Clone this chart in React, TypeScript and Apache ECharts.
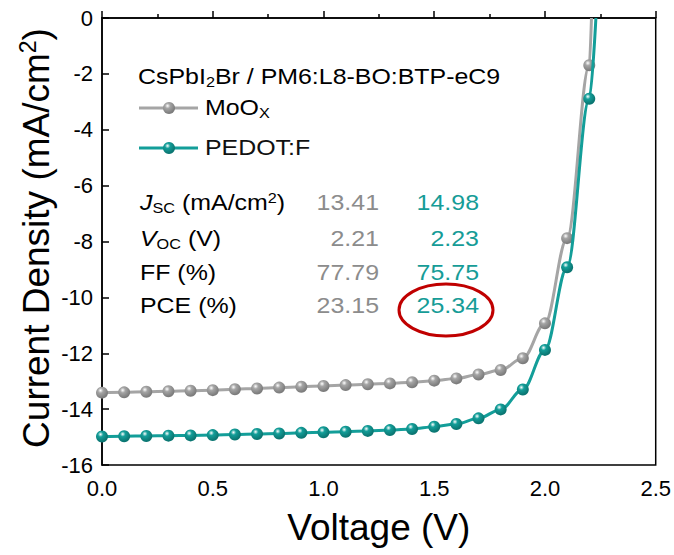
import React, { useEffect, useRef } from "react";
import * as echarts from "echarts";

const voltage = [0, 0.1, 0.2, 0.3, 0.4, 0.5, 0.6, 0.7, 0.8, 0.9, 1.0, 1.1, 1.2, 1.3, 1.4, 1.5, 1.6, 1.7, 1.8, 1.9, 2.0, 2.1, 2.2];
const jMoOx = [-13.41, -13.4, -13.38, -13.36, -13.34, -13.32, -13.29, -13.26, -13.23, -13.2, -13.17, -13.14, -13.11, -13.08, -13.04, -12.98, -12.9, -12.76, -12.6, -12.18, -10.93, -7.88, -1.69];
const jPedot = [-14.98, -14.97, -14.96, -14.95, -14.94, -14.93, -14.91, -14.89, -14.87, -14.85, -14.83, -14.81, -14.78, -14.75, -14.71, -14.63, -14.53, -14.33, -14.01, -13.3, -11.88, -8.92, -2.89];
const vocMoOx = 2.21;
const vocPedot = 2.23;

const seriesNames = ["MoO", "PEDOT:F"];
const rowLabels = ["{i|J}{sub|SC}{n| (mA/cm}{sup|2}{n|)}", "{i|V}{sub|OC}{n| (V)}", "{n|FF (%)}", "{n|PCE (%)}"];
const valuesMoOx = ["13.41", "2.21", "77.79", "23.15"];
const valuesPedot = ["14.98", "2.23", "75.75", "25.34"];

const GREY = "#A5A5A5";
const TEAL = "#139E99";
const GREY_TXT = "#8C8C8C";
const TEAL_TXT = "#169C97";
const FONT = "Liberation Sans, Arial, sans-serif";
const SX = 1.16;

function ball(color: string, dark: string) {
  return new echarts.graphic.RadialGradient(0.38, 0.32, 0.62, [
    { offset: 0, color: "#ffffff" },
    { offset: 0.35, color: color },
    { offset: 1, color: dark },
  ]);
}

export default function App() {
  const ref = useRef<HTMLDivElement>(null);
  useEffect(() => {
    if (!ref.current) return;
    const chart = echarts.init(ref.current, undefined, { renderer: "svg" });
    const mData: any[] = voltage.map((v, i) => [v, jMoOx[i]]);
    mData.push({ value: [vocMoOx, 0], symbol: "none" });
    const pData: any[] = voltage.map((v, i) => [v, jPedot[i]]);
    pData.push({ value: [vocPedot, 0], symbol: "none" });

    const FS = 21.5;
    const richBase = {
      n: { fontSize: FS, fontFamily: FONT, color: "#111" },
      i: { fontSize: FS, fontFamily: FONT, color: "#111", fontStyle: "italic" },
      sub: { fontSize: 14, fontFamily: FONT, color: "#111", padding: [10, 0, 0, 0] },
      sup: { fontSize: 14, fontFamily: FONT, color: "#111", padding: [0, 0, 10, 0] },
    };

    const rowY = [203, 239, 273, 306];
    const graphics: any[] = [];
    graphics.push({
      type: "text",
      x: 138,
      y: 77,
      scaleX: SX,
      style: {
        text: "{n|CsPbI}{sub|2}{n|Br / PM6:L8-BO:BTP-eC9}",
        rich: richBase,
        verticalAlign: "middle",
        align: "left",
      },
    });
    const legendY = [108, 148];
    const legendColors = [GREY, TEAL];
    const legendDark = ["#7d7d7d", "#0b7672"];
    legendY.forEach((y, k) => {
      graphics.push({
        type: "line",
        shape: { x1: 139, y1: y, x2: 198, y2: y },
        style: { stroke: legendColors[k], lineWidth: 3 },
      });
      graphics.push({
        type: "circle",
        shape: { cx: 169, cy: y, r: 6 },
        style: { fill: ball(legendColors[k], legendDark[k]) },
      });
    });
    graphics.push({
      type: "text",
      x: 205,
      y: legendY[0],
      scaleX: SX,
      style: {
        text: "{n|" + seriesNames[0] + "}{sub|X}",
        rich: richBase,
        verticalAlign: "middle",
      },
    });
    graphics.push({
      type: "text",
      x: 205,
      y: legendY[1],
      scaleX: SX,
      style: { text: seriesNames[1], fontSize: FS, fontFamily: FONT, fill: "#111", verticalAlign: "middle" },
    });
    rowLabels.forEach((lab, k) => {
      graphics.push({
        type: "text",
        x: 140,
        y: rowY[k],
        scaleX: SX,
        style: { text: lab, rich: richBase, verticalAlign: "middle", align: "left" },
      });
      graphics.push({
        type: "text",
        x: 379,
        y: rowY[k],
        scaleX: SX,
        style: { text: valuesMoOx[k], fontSize: FS, fontFamily: FONT, fill: GREY_TXT, align: "right", verticalAlign: "middle" },
      });
      graphics.push({
        type: "text",
        x: 479,
        y: rowY[k],
        scaleX: SX,
        style: { text: valuesPedot[k], fontSize: FS, fontFamily: FONT, fill: TEAL_TXT, align: "right", verticalAlign: "middle" },
      });
    });
    graphics.push({
      type: "ellipse",
      shape: { cx: 446, cy: 310, rx: 47, ry: 26 },
      style: { fill: "none", stroke: "#C00000", lineWidth: 3 },
    });
    graphics.push({
      type: "text",
      x: 36,
      y: 238,
      rotation: Math.PI / 2,
      style: {
        text: "{t|Current Density (mA/cm}{s|2}{t|)}",
        rich: {
          t: { fontSize: 37, fontFamily: FONT, color: "#000" },
          s: { fontSize: 23, fontFamily: FONT, color: "#000", padding: [0, 0, 17, 0] },
        },
        align: "center",
        verticalAlign: "middle",
      },
    });

    chart.setOption({
      animation: false,
      backgroundColor: "#fff",
      grid: { left: 102, right: 18, top: 18, bottom: 90, show: true, borderColor: "#000", borderWidth: 1.5 },
      xAxis: {
        type: "value",
        min: 0,
        max: 2.5,
        interval: 0.5,
        name: "Voltage (V)",
        nameLocation: "middle",
        nameGap: 44,
        nameTextStyle: { fontSize: 37, fontFamily: FONT, color: "#000" },
        axisLine: { show: true, lineStyle: { color: "#000", width: 1.5 } },
        axisTick: { show: true, inside: true, length: 7, lineStyle: { color: "#000", width: 1.5 } },
        minorTick: { show: true, splitNumber: 2, length: 4, lineStyle: { color: "#000", width: 1.5 } },
        axisLabel: { fontSize: 22, fontFamily: FONT, color: "#000", margin: 12, formatter: (v: number) => v.toFixed(1) },
        splitLine: { show: false },
      },
      yAxis: {
        type: "value",
        min: -16,
        max: 0,
        interval: 2,
        axisLine: { show: true, lineStyle: { color: "#000", width: 1.5 } },
        axisTick: { show: true, inside: true, length: 7, lineStyle: { color: "#000", width: 1.5 } },
        axisLabel: { fontSize: 22, fontFamily: FONT, color: "#000", margin: 9 },
        splitLine: { show: false },
      },
      graphic: graphics,
      series: [
        {
          type: "line",
          name: "MoOx",
          data: mData,
          smooth: 0.35,
          smoothMonotone: "x",
          symbol: "circle",
          symbolSize: 12,
          lineStyle: { color: GREY, width: 3 },
          itemStyle: { color: ball(GREY, "#7d7d7d") },
          z: 2,
        },
        {
          type: "line",
          name: "PEDOT:F",
          data: pData,
          smooth: 0.35,
          smoothMonotone: "x",
          symbol: "circle",
          symbolSize: 12,
          lineStyle: { color: TEAL, width: 3 },
          itemStyle: { color: ball(TEAL, "#0b7672") },
          z: 3,
        },
      ],
    });
    return () => chart.dispose();
  }, []);
  return <div ref={ref} style={{ width: 674, height: 555, position: "absolute", left: 0, top: 0 }} />;
}
